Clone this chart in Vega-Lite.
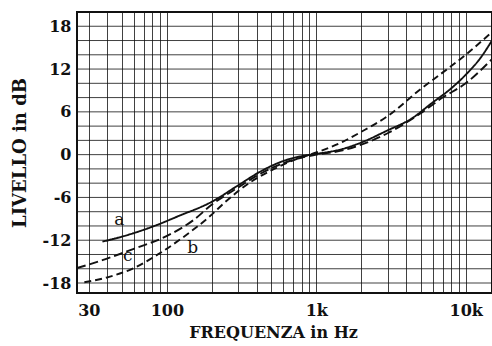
{
  "$schema": "https://vega.github.io/schema/vega-lite/v6.json",
  "width": 415,
  "height": 281,
  "autosize": "none",
  "padding": {"left": 77, "top": 12, "right": 0, "bottom": 53},
  "background": "white",
  "config": {"view": {"stroke": "#111", "strokeWidth": 2}, "font": "DejaVu Serif"},
  "datasets": {
    "levels": [
      {"db": -18}, {"db": -16}, {"db": -14}, {"db": -12}, {"db": -10}, {"db": -8}, {"db": -6}, {"db": -4}, {"db": -2}, {"db": 0},
      {"db": 2}, {"db": 4}, {"db": 6}, {"db": 8}, {"db": 10}, {"db": 12}, {"db": 14}, {"db": 16}, {"db": 18}
    ],
    "curves": [
      {"curve": "a", "f": 37, "db": -12.2}, {"curve": "a", "f": 50, "db": -11.5}, {"curve": "a", "f": 80, "db": -10.1},
      {"curve": "a", "f": 120, "db": -8.6}, {"curve": "a", "f": 200, "db": -6.6}, {"curve": "a", "f": 300, "db": -4.3},
      {"curve": "a", "f": 420, "db": -2.4}, {"curve": "a", "f": 600, "db": -0.9}, {"curve": "a", "f": 800, "db": -0.2},
      {"curve": "a", "f": 1000, "db": 0.1}, {"curve": "a", "f": 1500, "db": 0.8}, {"curve": "a", "f": 2000, "db": 1.7},
      {"curve": "a", "f": 3000, "db": 3.4}, {"curve": "a", "f": 4300, "db": 5.0}, {"curve": "a", "f": 6000, "db": 7.3},
      {"curve": "a", "f": 8000, "db": 9.3}, {"curve": "a", "f": 10000, "db": 11.2}, {"curve": "a", "f": 12500, "db": 13.5},
      {"curve": "a", "f": 15000, "db": 16.0},
      {"curve": "b", "f": 28, "db": -17.9}, {"curve": "b", "f": 40, "db": -17.2}, {"curve": "b", "f": 60, "db": -15.9},
      {"curve": "b", "f": 90, "db": -13.8}, {"curve": "b", "f": 130, "db": -11.5}, {"curve": "b", "f": 190, "db": -8.8},
      {"curve": "b", "f": 250, "db": -6.5}, {"curve": "b", "f": 360, "db": -3.9}, {"curve": "b", "f": 500, "db": -2.2},
      {"curve": "b", "f": 700, "db": -0.8}, {"curve": "b", "f": 1000, "db": 0.3}, {"curve": "b", "f": 1500, "db": 1.8},
      {"curve": "b", "f": 2000, "db": 3.2}, {"curve": "b", "f": 3000, "db": 5.4}, {"curve": "b", "f": 5000, "db": 9.2},
      {"curve": "b", "f": 7000, "db": 11.5}, {"curve": "b", "f": 10000, "db": 14.0}, {"curve": "b", "f": 15000, "db": 17.2},
      {"curve": "c", "f": 25, "db": -15.9}, {"curve": "c", "f": 37, "db": -14.8}, {"curve": "c", "f": 60, "db": -13.2},
      {"curve": "c", "f": 100, "db": -11.4}, {"curve": "c", "f": 150, "db": -9.2}, {"curve": "c", "f": 200, "db": -7.0},
      {"curve": "c", "f": 300, "db": -4.6}, {"curve": "c", "f": 420, "db": -2.7}, {"curve": "c", "f": 600, "db": -1.2},
      {"curve": "c", "f": 800, "db": -0.4}, {"curve": "c", "f": 1000, "db": 0.0}, {"curve": "c", "f": 1500, "db": 0.6},
      {"curve": "c", "f": 2000, "db": 1.4}, {"curve": "c", "f": 3000, "db": 3.0}, {"curve": "c", "f": 5000, "db": 5.8},
      {"curve": "c", "f": 7000, "db": 8.0}, {"curve": "c", "f": 10000, "db": 10.0}, {"curve": "c", "f": 15000, "db": 13.4}
    ],
    "labels": [
      {"label": "a", "f": 48, "db": -9.2},
      {"label": "c", "f": 54.6, "db": -14.2},
      {"label": "b", "f": 148.6, "db": -13.1}
    ]
  },
  "layer": [
    {
      "data": {"name": "levels"},
      "mark": {"type": "rule", "color": "#111", "opacity": 0.8, "strokeWidth": 1},
      "encoding": {
        "y": {
          "field": "db", "type": "quantitative",
          "scale": {"domain": [-19.4, 20], "nice": false, "zero": false},
          "axis": {
            "values": [-18, -12, -6, 0, 6, 12, 18],
            "labelExpr": "toString(datum.value)",
            "grid": false, "ticks": false, "domain": false,
            "labelFont": "DejaVu Serif", "labelFontSize": 16,
            "labelFontWeight": "bold", "labelColor": "#111",
            "labelPadding": 6, "labelOverlap": false, "labelBound": false, "labelFlush": false,
            "title": "LIVELLO in dB", "titleFont": "DejaVu Serif", "titleFontSize": 18, "titleFontWeight": "bold", "titleColor": "#111",
            "titleAngle": -90, "titleX": -57, "titleY": 140.5, "titleAlign": "center", "titleBaseline": "middle"
          }
        }
      }
    },
    {
      "data": {"name": "curves"},
      "mark": {"type": "line", "color": "#111", "strokeWidth": 1.9, "clip": true, "interpolate": "monotone"},
      "encoding": {
        "x": {
          "field": "f", "type": "quantitative",
          "scale": {"type": "log", "domain": [25, 15000], "nice": false},
          "axis": {
            "values": [30, 40, 50, 60, 70, 80, 90, 100, 200, 300, 400, 500, 600, 700, 800, 900, 1000, 2000, 3000, 4000, 5000, 6000, 7000, 8000, 9000, 10000],
            "labelExpr": "datum.value == 30 ? '30' : datum.value == 100 ? '100' : datum.value == 1000 ? '1k' : datum.value == 10000 ? '10k' : ''",
            "grid": true, "gridColor": "#111", "gridOpacity": 0.8, "gridWidth": 1,
            "ticks": false, "domain": false,
            "labelFont": "DejaVu Serif", "labelFontSize": 16, "labelFontWeight": "bold", "labelColor": "#111",
            "labelPadding": 9, "labelFlush": false, "labelOverlap": false, "labelBound": false,
            "title": "FREQUENZA in Hz", "titleFont": "DejaVu Serif", "titleFontSize": 16, "titleFontWeight": "bold", "titleColor": "#111",
            "titleX": 196, "titleY": 44, "titleAlign": "center", "titleBaseline": "alphabetic"
          }
        },
        "y": {"field": "db", "type": "quantitative"},
        "detail": {"field": "curve"},
        "strokeDash": {
          "field": "curve", "type": "nominal",
          "scale": {"domain": ["a", "b", "c"], "range": [[1, 0], [7, 4], [9, 4]]},
          "legend": null
        }
      }
    },
    {
      "data": {"name": "labels"},
      "mark": {"type": "text", "font": "DejaVu Serif", "fontSize": 17, "color": "#111", "align": "center", "baseline": "middle"},
      "encoding": {
        "x": {"field": "f", "type": "quantitative"},
        "y": {"field": "db", "type": "quantitative"},
        "text": {"field": "label"}
      }
    }
  ]
}
